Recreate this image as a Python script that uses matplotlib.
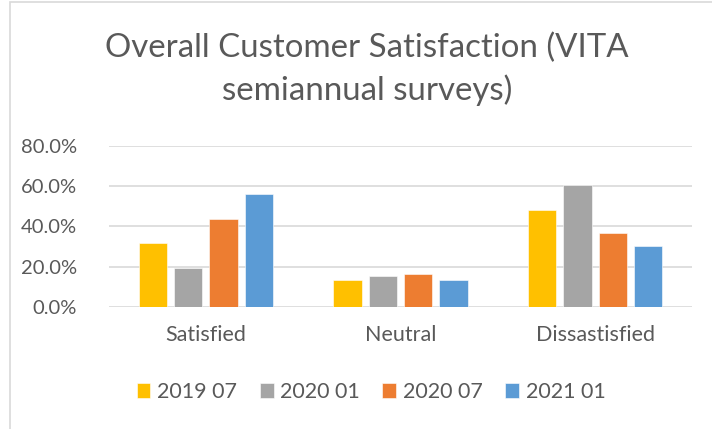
import numpy as np
import matplotlib
matplotlib.use("Agg")
import matplotlib.pyplot as plt
from matplotlib.ticker import FuncFormatter
from matplotlib.patches import Rectangle

plt.rcParams['font.family'] = ['Lato', 'DejaVu Sans']

# Data
categories = ["Satisfied", "Neutral", "Dissastisfied"]
series_names = ["2019 07", "2020 01", "2020 07", "2021 01"]
s2019_07 = [0.318, 0.133, 0.479]
s2020_01 = [0.194, 0.151, 0.605]
s2020_07 = [0.435, 0.161, 0.365]
s2021_01 = [0.562, 0.131, 0.302]
colors = ["#FFC000", "#A5A5A5", "#ED7D31", "#5B9BD5"]

W, H = 712, 429
fig = plt.figure(figsize=(W / 100, H / 100), dpi=100)
text_col = "#595959"
grid_col = "#D9D9D9"
fs = 15.5

# chart border (left and top visible, the rest is cropped)
fig.patches.append(Rectangle((10 / W, -0.1), 1.2, (H - 2.3) / H + 0.1,
                             transform=fig.transFigure, fill=False,
                             edgecolor=grid_col, lw=1.2))

ax = fig.add_axes([108.7 / W, 1 - 306.7 / H, 583.6 / W, 160.7 / H])
x = np.arange(len(categories))
bw = 0.1455
pitch = 0.1813
all_series = [s2019_07, s2020_01, s2020_07, s2021_01]
for i, (vals, name, c) in enumerate(zip(all_series, series_names, colors)):
    ax.bar(x + (i - 1.5) * pitch, vals, width=bw, color=c, label=name,
           edgecolor="white", linewidth=0.4, zorder=3)

ax.set_xlim(-0.5, 2.5)
ax.set_ylim(0, 0.8)
ax.set_yticks(np.arange(0, 0.81, 0.2))
ax.yaxis.set_major_formatter(FuncFormatter(lambda v, p: f"{v * 100:.1f}%"))
ax.set_xticks(x)
ax.set_xticklabels(categories)
ax.tick_params(axis='both', length=0, colors=text_col, labelsize=fs)
ax.tick_params(axis='y', pad=23, labelsize=14.5)
ax.tick_params(axis='x', pad=13)
ax.grid(axis='y', color=grid_col, lw=1.2, zorder=0)
for s in ax.spines.values():
    s.set_visible(False)

fig.text(367 / W, 1 - 57 / H, "Overall Customer Satisfaction (VITA",
         ha='center', va='baseline', fontsize=23.8, color=text_col)
fig.text(367 / W, 1 - 100 / H, "semiannual surveys)",
         ha='center', va='baseline', fontsize=23.8, color=text_col)

leg = ax.legend(loc='center', bbox_to_anchor=(371 / W, 1 - 392 / H),
                bbox_transform=fig.transFigure, ncol=4, frameon=False,
                fontsize=fs, handlelength=0.65, handleheight=0.65,
                handletextpad=0.3, columnspacing=1.05, labelcolor=text_col)

fig.savefig("out.png", dpi=100)
